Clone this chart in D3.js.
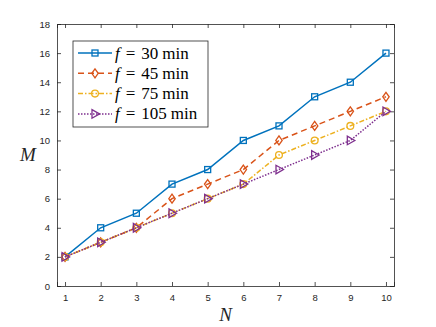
<!DOCTYPE html>
<html>
<head>
<meta charset="utf-8">
<script src="https://cdn.jsdelivr.net/npm/d3@7"></script>
<style>
  body { margin: 0; background: #fff; }
  svg { display: block; }
</style>
</head>
<body>
<div id="main-frame"></div>
<script>
// Data
const nValues = [1, 2, 3, 4, 5, 6, 7, 8, 9, 10];
const m30 = [2, 4, 5, 7, 8, 10, 11, 13, 14, 16];
const m45 = [2, 3, 4, 6, 7, 8, 10, 11, 12, 13];
const m75 = [2, 3, 4, 5, 6, 7, 9, 10, 11, 12];
const m105 = [2, 3, 4, 5, 6, 7, 8, 9, 10, 12];
const seriesLabels = ["30", "45", "75", "105"];
const yTicks = [0, 2, 4, 6, 8, 10, 12, 14, 16, 18];

const series = [
  { label: seriesLabels[0], values: m30, color: "#0072BD", dash: null, marker: "square" },
  { label: seriesLabels[1], values: m45, color: "#D95319", dash: "6,4", marker: "diamond" },
  { label: seriesLabels[2], values: m75, color: "#EDB120", dash: "5,2,1.5,2", marker: "circle" },
  { label: seriesLabels[3], values: m105, color: "#7E2F8E", dash: "1.5,1.5", marker: "tri" },
];

const W = 436, H = 327;
const box = { left: 57, right: 394, top: 24, bottom: 286 };

const svg = d3
  .select("#main-frame")
  .append("svg")
  .attr("width", W)
  .attr("height", H);

const xScale = d3.scaleLinear().domain([0.775, 10.225]).range([box.left, box.right]);
const yScale = d3.scaleLinear().domain([0, 18]).range([box.bottom, box.top]);

const axisColor = "#262626";
const tickFont = "'Liberation Sans', Arial, sans-serif";

// Axes (ticks inward, box on)
const xAxis = d3.axisBottom(xScale).tickValues(nValues).tickSize(-4).tickPadding(8);
const yAxis = d3.axisLeft(yScale).tickValues(yTicks).tickSize(-4).tickPadding(7);
const xTop = d3.axisTop(xScale).tickValues(nValues).tickSize(-4).tickFormat("");
const yRight = d3.axisRight(yScale).tickValues(yTicks).tickSize(-4).tickFormat("");

function styleAxis(g) {
  g.select(".domain").attr("stroke", axisColor).attr("stroke-width", 0.8);
  g.selectAll(".tick line").attr("stroke", axisColor).attr("stroke-width", 0.8);
  g.selectAll(".tick text")
    .attr("fill", axisColor)
    .style("font-family", tickFont)
    .style("font-size", "9.5px");
}

svg.append("g").attr("transform", `translate(0,${box.bottom})`).call(xAxis).call(styleAxis);
svg.append("g").attr("transform", `translate(${box.left},0)`).call(yAxis).call(styleAxis);
svg.append("g").attr("transform", `translate(0,${box.top})`).call(xTop).call(styleAxis);
svg.append("g").attr("transform", `translate(${box.right},0)`).call(yRight).call(styleAxis);

// Axis labels
const serif = "'Liberation Serif', 'Times New Roman', serif";
svg.append("text")
  .attr("x", (box.left + box.right) / 2)
  .attr("y", 321)
  .attr("text-anchor", "middle")
  .style("font-family", serif)
  .style("font-style", "italic")
  .style("font-size", "19px")
  .attr("fill", axisColor)
  .text("N");

svg.append("text")
  .attr("x", 28)
  .attr("y", 161)
  .attr("text-anchor", "middle")
  .style("font-family", serif)
  .style("font-style", "italic")
  .style("font-size", "19px")
  .attr("fill", axisColor)
  .text("M");

// Marker drawing
function drawMarker(g, type, x, y, color) {
  if (type === "square") {
    g.append("rect").attr("x", x - 3).attr("y", y - 3).attr("width", 6).attr("height", 6)
      .attr("fill", "none").attr("stroke", color).attr("stroke-width", 1.3);
  } else if (type === "diamond") {
    g.append("path").attr("d", `M${x},${y - 4.5}L${x + 3.2},${y}L${x},${y + 4.5}L${x - 3.2},${y}Z`)
      .attr("fill", "none").attr("stroke", color).attr("stroke-width", 1.3);
  } else if (type === "circle") {
    g.append("circle").attr("cx", x).attr("cy", y).attr("r", 3.4)
      .attr("fill", "none").attr("stroke", color).attr("stroke-width", 1.3);
  } else {
    g.append("path").attr("d", `M${x + 4.5},${y}L${x - 3},${y - 4.3}L${x - 3},${y + 4.3}Z`)
      .attr("fill", "none").attr("stroke", color).attr("stroke-width", 1.3);
  }
}

const line = d3.line().x((d, i) => xScale(nValues[i])).y((d) => yScale(d));

series.forEach((s) => {
  const g = svg.append("g");
  g.append("path")
    .datum(s.values)
    .attr("d", line)
    .attr("fill", "none")
    .attr("stroke", s.color)
    .attr("stroke-width", 1.5)
    .attr("stroke-dasharray", s.dash);
  s.values.forEach((v, i) => drawMarker(g, s.marker, xScale(nValues[i]), yScale(v), s.color));
});

// Legend
const legend = svg.append("g").attr("transform", "translate(73,41)");
legend.append("rect")
  .attr("width", 135).attr("height", 86)
  .attr("fill", "#fff").attr("stroke", axisColor).attr("stroke-width", 0.8);

series.forEach((s, i) => {
  const y = 12 + i * 20.3;
  const g = legend.append("g");
  g.append("line")
    .attr("x1", 5).attr("x2", 39).attr("y1", y).attr("y2", y)
    .attr("stroke", s.color).attr("stroke-width", 1.5)
    .attr("stroke-dasharray", s.dash);
  drawMarker(g, s.marker, 22, y, s.color);
  const t = g.append("text")
    .attr("x", 42).attr("y", y + 5.5)
    .style("font-family", serif)
    .style("font-size", "17px")
    .attr("fill", "#000");
  t.append("tspan").style("font-style", "italic").text("f");
  t.append("tspan").attr("dx", 6).text("=");
  t.append("tspan").attr("dx", 6).text(s.label);
  t.append("tspan").attr("dx", 4).text("min");
});
</script>
</body>
</html>
